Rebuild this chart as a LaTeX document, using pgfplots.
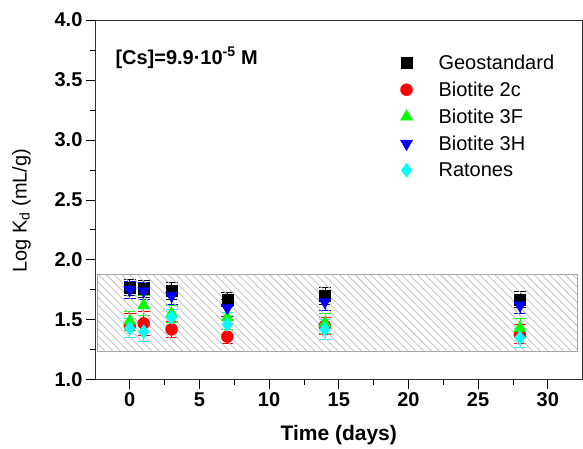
\documentclass[border=0pt]{standalone}
\usepackage{pgfplots}
\pgfplotsset{compat=1.18}
\usepackage{fontspec}
\setmainfont{Liberation Sans}
\usetikzlibrary{patterns.meta}
\definecolor{cRed}{RGB}{255,0,0}
\definecolor{cGreen}{RGB}{0,255,0}
\definecolor{cBlue}{RGB}{0,0,255}
\definecolor{cCyan}{RGB}{0,255,255}

\begin{document}
\begin{tikzpicture}
\begin{axis}[name=ax,
  scale only axis, width=488pt, height=360pt,
  xmin=-2.5, xmax=32.5, ymin=1, ymax=4,
  xtick={0,5,...,30}, ytick={1,1.5,...,4},
  minor x tick num=1, minor y tick num=1,
  tick align=outside, xtick pos=bottom, ytick pos=left,
  major tick length=9pt, minor tick length=5pt,
  tick style={black, line width=0.7pt},
  axis line style={line width=0.8pt, black!80},
  /pgf/number format/assume math mode=true,
  yticklabel style={/pgf/number format/.cd, fixed, fixed zerofill, precision=1},
  ticklabel style={font=\fontsize{20}{23}\selectfont\bfseries},
  xlabel={Time (days)}, ylabel={Log K\textsubscript{d} (mL/g)},
  xlabel style={font=\fontsize{21}{24}\selectfont\bfseries},
  ylabel style={at={(ticklabel cs:0.47)}, font=\fontsize{20}{23}\selectfont},
  ylabel shift=17pt, xlabel shift=12pt,
  legend cell align=left,
  legend style={draw=none, fill=none, at={(0.62,0.915)}, anchor=north west,
    font=\fontsize{20}{23}\selectfont, row sep=7pt, /tikz/column sep=24pt},
  error bars/y dir=both, error bars/y explicit,
  error bars/error bar style={line width=0.6pt},
  error bars/error mark options={rotate=90, mark size=6pt, line width=0.6pt},
]
\addplot[only marks, mark=square*, mark size=5.5pt, black,
  error bars/error bar style={black}]
  coordinates {(0,1.77) +- (0,0.07) (1,1.76) +- (0,0.07) (3,1.74) +- (0,0.07)
               (7,1.67) +- (0,0.06) (14,1.70) +- (0,0.07) (28,1.67) +- (0,0.07)};
\addplot[only marks, mark=*, mark size=6pt, cRed,
  error bars/error bar style={cRed}]
  coordinates {(0,1.45) +- (0,0.10) (1,1.47) +- (0,0.10) (3,1.42) +- (0,0.07)
               (7,1.36) +- (0,0.06) (14,1.45) +- (0,0.07) (28,1.38) +- (0,0.08)};
\addplot[only marks, mark=triangle*, mark size=7pt, cGreen,
  error bars/error bar style={cGreen}]
  coordinates {(0,1.49) +- (0,0.08) (1,1.62) +- (0,0.08) (3,1.55) +- (0,0.07)
               (7,1.52) +- (0,0.10) (14,1.47) +- (0,0.08) (28,1.43) +- (0,0.08)};
\addplot[only marks, mark=triangle*, mark size=7pt, cBlue,
  mark options={rotate=180},
  error bars/error bar style={cBlue}]
  coordinates {(0,1.75) +- (0,0.07) (1,1.74) +- (0,0.07) (3,1.70) +- (0,0.07)
               (7,1.60) +- (0,0.07) (14,1.65) +- (0,0.07) (28,1.62) +- (0,0.07)};
\addplot[only marks, mark=diamond*, mark size=7pt, cCyan,
  error bars/error bar style={cCyan}]
  coordinates {(0,1.43) +- (0,0.08) (1,1.40) +- (0,0.08) (3,1.52) +- (0,0.07)
               (7,1.46) +- (0,0.10) (14,1.42) +- (0,0.08) (28,1.35) +- (0,0.08)};
\legend{Geostandard, Biotite 2c, Biotite 3F, Biotite 3H, Ratones}
% hatched band drawn over the points
\addplot[forget plot, draw=gray!70, line width=0.8pt,
  pattern={Lines[angle=-45, distance=5.5pt, line width=0.9pt]}, pattern color=gray!45]
  coordinates {(-2.3,1.233) (32.15,1.233) (32.15,1.875) (-2.3,1.875) (-2.3,1.233)};
\node[anchor=west, font=\fontsize{20}{23}\selectfont\bfseries]
  at (rel axis cs:0.035,0.895) {[Cs]=9.9·10\textsuperscript{-5} M};
\end{axis}
\path (ax.south west) ++(-95pt,-66pt);
\path (ax.north east) ++(0pt,20pt);
\end{tikzpicture}
\end{document}
